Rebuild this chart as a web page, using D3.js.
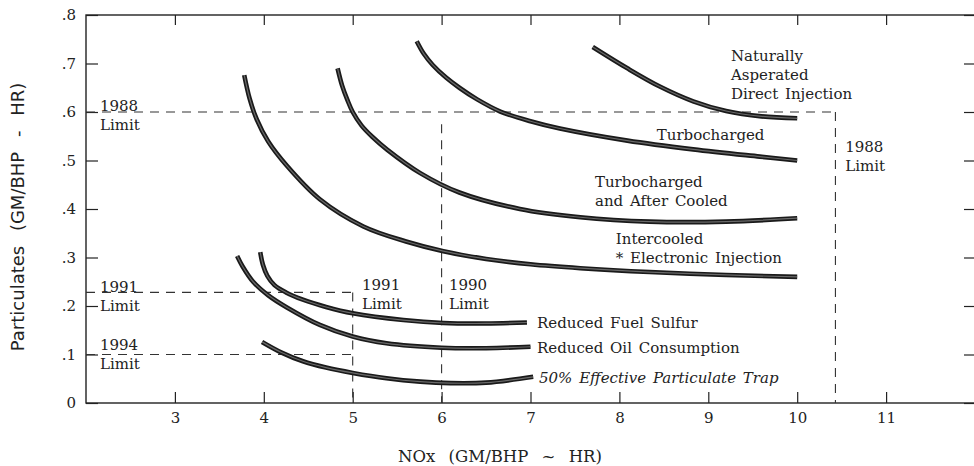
<!DOCTYPE html>
<html>
<head>
<meta charset="utf-8">
<script src="https://cdn.jsdelivr.net/npm/d3@7"></script>
<style>
  body { margin: 0; background: #fff; }
  svg { display: block; }
</style>
</head>
<body>
<div id="chart"></div>
<script>
// NOx (x) vs particulates (y)
const naturallyAspirated = [[7.70, .734], [8.09, .690], [8.46, .652], [8.83, .622], [9.2, .602], [9.6, .591], [10, .587]];
const turbocharged = [[5.72, .746], [5.8, .72], [5.9, .697], [6.05, .671], [6.2, .65], [6.4, .626], [6.66, .601],
  [7.0, .581], [7.33, .566], [8.09, .541], [8.83, .523], [9.58, .508], [10, .5]];
const turboAfterCooled = [[4.83, .69], [4.88, .655], [4.94, .625], [5.0, .6], [5.1, .572], [5.22, .549], [5.39, .522],
  [5.76, .474], [6.2, .434], [6.88, .400], [7.56, .383], [8.34, .374], [9.2, .374], [10, .381]];
const intercooledEI = [[3.78, .676], [3.84, .628], [3.92, .585], [4.05, .539], [4.26, .489], [4.63, .42], [5.12, .364],
  [5.6, .333], [6.02, .313], [6.5, .297], [7.0, .286], [7.56, .278], [8.34, .27], [9.2, .264], [10, .26]];
const reducedFuelSulfur = [[3.96, .311], [3.99, .285], [4.04, .262], [4.12, .243], [4.25, .228], [4.44, .213],
  [4.7, .198], [5.0, .185], [5.57, .171], [6.02, .165], [6.5, .164], [6.96, .166]];
const reducedOilConsumption = [[3.70, .303], [3.76, .282], [3.88, .250], [4.05, .222], [4.26, .197], [4.63, .161],
  [5.0, .137], [5.38, .123], [6.0, .114], [6.5, .113], [7.0, .116]];
const particulateTrap = [[3.98, .126], [4.2, .104], [4.44, .086], [4.7, .073], [5.0, .062], [5.38, .051],
  [5.76, .044], [6.1, .041], [6.5, .042], [7.03, .054]];

const curves = [naturallyAspirated, turbocharged, turboAfterCooled, intercooledEI,
  reducedFuelSulfur, reducedOilConsumption, particulateTrap];

// limit lines: [x1, y1, x2, y2]
const limit1988 = [[2, .6, 10.43, .6], [10.43, .6, 10.43, 0]];
const limit1990 = [[6, .575, 6, 0]];
const limit1991 = [[2, .228, 5, .228], [5, .228, 5, 0]];
const limit1994 = [[2, .1, 5, .1]];
const limitLines = [...limit1988, ...limit1990, ...limit1991, ...limit1994];

const xTicks = [3, 4, 5, 6, 7, 8, 9, 10, 11];
const yTicks = [0, .1, .2, .3, .4, .5, .6, .7, .8];

// annotations: lines of text, anchor x, anchor y (first baseline), italic
const annotations = [
  { lines: ['1988', 'Limit'], x: 2.157, y: .602 },
  { lines: ['1991', 'Limit'], x: 2.157, y: .229 },
  { lines: ['1994', 'Limit'], x: 2.157, y: .109 },
  { lines: ['1991', 'Limit'], x: 5.105, y: .233 },
  { lines: ['1990', 'Limit'], x: 6.083, y: .233 },
  { lines: ['1988', 'Limit'], x: 10.54, y: .518 },
  { lines: ['Naturally', 'Asperated', 'Direct Injection'], x: 9.255, y: .705 },
  { lines: ['Turbocharged'], x: 8.42, y: .542 },
  { lines: ['Turbocharged', 'and After Cooled'], x: 7.725, y: .445 },
  { lines: ['Intercooled', '* Electronic Injection'], x: 7.96, y: .328 },
  { lines: ['Reduced Fuel Sulfur'], x: 7.073, y: .155 },
  { lines: ['Reduced Oil Consumption'], x: 7.073, y: .103 },
  { lines: ['50% Effective Particulate Trap'], x: 7.096, y: .041, italic: true }
];

const width = 974, height = 466;
const margin = { left: 86, right: 975, top: 15, bottom: 403 };

const svg = d3.select('#chart')
  .append('svg')
  .attr('width', width)
  .attr('height', height);

const x = d3.scaleLinear().domain([2, 12]).range([margin.left, margin.right]);
const y = d3.scaleLinear().domain([0, .8]).range([margin.bottom, margin.top]);

const ink = '#222';
const serif = '"DejaVu Serif", serif';

// frame
svg.append('rect')
  .attr('x', margin.left).attr('y', margin.top)
  .attr('width', margin.right - margin.left).attr('height', margin.bottom - margin.top)
  .attr('fill', 'none').attr('stroke', ink).attr('stroke-width', 1.4);

const styleAxis = g => {
  g.select('.domain').remove();
  g.selectAll('line').attr('stroke', ink).attr('stroke-width', 1.2);
  g.selectAll('text').attr('fill', '#222').style('font-family', serif).style('font-size', '15px');
};

// Add X axis
svg.append('g')
  .attr('transform', `translate(0,${margin.bottom})`)
  .call(d3.axisBottom(x).tickValues(xTicks).tickSizeInner(-11).tickSizeOuter(0).tickPadding(9))
  .call(styleAxis);

svg.append('g')
  .attr('transform', `translate(0,${margin.top})`)
  .call(d3.axisTop(x).tickValues(xTicks).tickSizeInner(-10).tickSizeOuter(0).tickFormat(''))
  .call(styleAxis);

// Add Y axis
svg.append('g')
  .attr('transform', `translate(${margin.left},0)`)
  .call(d3.axisLeft(y).tickValues(yTicks).tickSizeInner(-12).tickSizeOuter(0).tickPadding(10)
    .tickFormat(d => d === 0 ? '0' : d3.format('.1f')(d).slice(1)))
  .call(styleAxis);

svg.append('g')
  .attr('transform', `translate(${margin.right},0)`)
  .call(d3.axisRight(y).tickValues(yTicks).tickSizeInner(-11).tickSizeOuter(0).tickFormat(''))
  .call(styleAxis);

// limit lines
svg.selectAll('.limit')
  .data(limitLines)
  .enter()
  .append('line')
  .attr('class', 'limit')
  .attr('x1', d => x(d[0])).attr('y1', d => y(d[1]))
  .attr('x2', d => x(d[2])).attr('y2', d => y(d[3]))
  .attr('stroke', '#333')
  .attr('stroke-width', 1.1)
  .attr('stroke-dasharray', '9,7');

// curves
const line = d3.line()
  .x(d => x(d[0]))
  .y(d => y(d[1]))
  .curve(d3.curveCatmullRom.alpha(0.5));

svg.selectAll('.curve')
  .data(curves)
  .enter()
  .append('path')
  .attr('class', 'curve')
  .attr('d', line)
  .attr('fill', 'none')
  .attr('stroke', '#1a1a1a')
  .attr('stroke-width', 4.6);

svg.selectAll('.curve-core')
  .data(curves)
  .enter()
  .append('path')
  .attr('class', 'curve-core')
  .attr('d', line)
  .attr('fill', 'none')
  .attr('stroke', '#6a6a6a')
  .attr('stroke-width', 1.2);

// annotation text
const notes = svg.selectAll('.note')
  .data(annotations)
  .enter()
  .append('text')
  .attr('class', 'note')
  .attr('x', d => x(d.x))
  .attr('y', d => y(d.y))
  .style('font-family', serif)
  .style('font-size', '15px')
  .style('font-style', d => d.italic ? 'italic' : 'normal')
  .style('word-spacing', '2px')
  .attr('fill', '#222');

notes.selectAll('tspan')
  .data(d => d.lines.map((t, i) => ({ t, i, x: d.x })))
  .enter()
  .append('tspan')
  .attr('x', d => x(d.x))
  .attr('dy', d => d.i === 0 ? 0 : 19)
  .text(d => d.t);

// axis titles
svg.append('text')
  .attr('transform', 'translate(24,217) rotate(-90)')
  .attr('text-anchor', 'middle')
  .style('font-family', '"DejaVu Sans", sans-serif')
  .style('font-size', '18px')
  .style('word-spacing', '9px')
  .attr('fill', '#222')
  .text('Particulates (GM/BHP - HR)');

svg.append('text')
  .attr('x', 500)
  .attr('y', 462)
  .attr('text-anchor', 'middle')
  .style('font-family', serif)
  .style('font-size', '16.5px')
  .style('word-spacing', '8px')
  .attr('fill', '#222')
  .text('NOx (GM/BHP ~ HR)');
</script>
</body>
</html>
